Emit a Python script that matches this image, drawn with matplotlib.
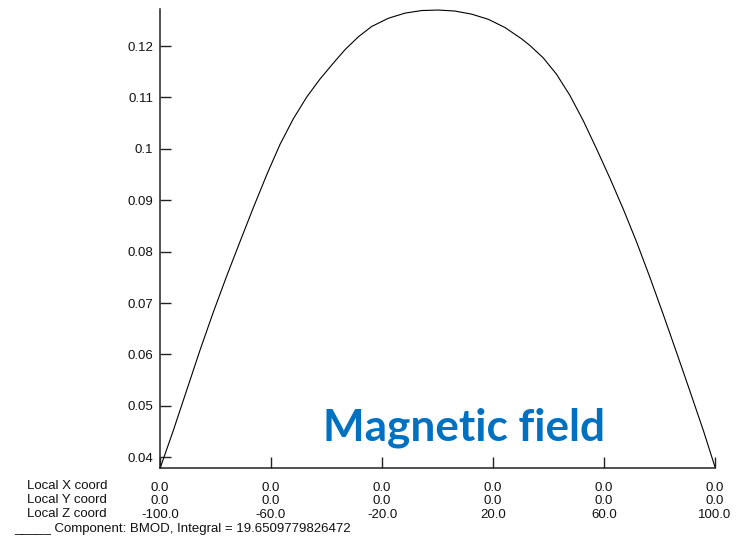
import matplotlib
matplotlib.use("Agg")
import matplotlib.pyplot as plt

# --- Data ---
z_coord = [-100, -95.2, -90.4, -85.6, -80.8, -76.0, -71.2, -66.4, -61.5, -56.8,
           -52.0, -47.1, -42.3, -37.5, -33.3, -28.5, -23.7, -17.7, -11.7, -5.7,
           0.3, 6.3, 12.3, 18.3, 24.3, 30.3, 33.3, 38.1, 42.9, 47.7,
           52.5, 57.4, 62.2, 67.0, 71.8, 76.6, 81.4, 86.2, 91.0, 95.8, 100]
bmod = [0.0378, 0.0452, 0.0530, 0.0608, 0.0682, 0.0752, 0.0819, 0.0885, 0.0950, 0.1008,
        0.1058, 0.1101, 0.1136, 0.1167, 0.1193, 0.1218, 0.1238, 0.1254, 0.1264, 0.1269,
        0.1270, 0.1268, 0.1262, 0.1252, 0.1236, 0.1214, 0.1201, 0.1177, 0.1145, 0.1104,
        0.1055, 0.0999, 0.0942, 0.0882, 0.0818, 0.0749, 0.0677, 0.0603, 0.0528, 0.0452, 0.0381]

x_ticks = [-100, -60, -20, 20, 60, 100]
x_row = ["0.0", "0.0", "0.0", "0.0", "0.0", "0.0"]
y_row = ["0.0", "0.0", "0.0", "0.0", "0.0", "0.0"]
z_row = ["-100.0", "-60.0", "-20.0", "20.0", "60.0", "100.0"]
row_names = ["Local X coord", "Local Y coord", "Local Z coord"]

y_ticks = [0.04, 0.05, 0.06, 0.07, 0.08, 0.09, 0.1, 0.11, 0.12]
y_labels = ["0.04", "0.05", "0.06", "0.07", "0.08", "0.09", "0.1", "0.11", "0.12"]

component = "Component: BMOD, Integral = 19.6509779826472"
overlay = "Magnetic field"

# --- Figure ---
W, H = 741, 542
plt.rcParams['font.family'] = ['Liberation Sans', 'DejaVu Sans']
fig = plt.figure(figsize=(W / 100, H / 100), dpi=100)
ax = fig.add_axes([160 / W, (H - 468) / H, (715 - 160) / W, (468 - 9) / H])

ax.plot(z_coord, bmod, color='black', linewidth=0.8)
ax.set_xlim(-100, 100)
ax.set_ylim(0.0379, 0.1272)

for s in ['top', 'right']:
    ax.spines[s].set_visible(False)
for s in ['left', 'bottom']:
    ax.spines[s].set_linewidth(1.1)
    ax.spines[s].set_color('#222222')

ax.set_yticks(y_ticks)
ax.set_yticklabels(y_labels)
ax.set_xticks(x_ticks)
ax.set_xticklabels([f"{a}\n{b}\n{c}" for a, b, c in zip(x_row, y_row, z_row)],
                   linespacing=1.17)
ax.tick_params(axis='both', direction='in', length=8, width=1.0, color='#222222',
               labelsize=9.5, labelcolor='#111111')
ax.tick_params(axis='y', pad=5)
ax.tick_params(axis='x', pad=10)

# row names at the left of the x tick label rows
for i, name in enumerate(row_names):
    fig.text(27 / W, 1 - (489 + i * 14.2) / H, name, fontsize=9.5, ha='left',
             va='baseline', color='#111111')
fig.text(14 / W, 1 - 531.7 / H, "_____ " + component, fontsize=9.5, ha='left',
         va='baseline', color='#111111')

# overlaid slide title
fig.text(323 / W, 1 - 440 / H, overlay, fontsize=31.8, fontweight='bold',
         family=['Lato', 'DejaVu Sans'], color='#0070C0', ha='left', va='baseline')

fig.savefig("out.png", dpi=100)
